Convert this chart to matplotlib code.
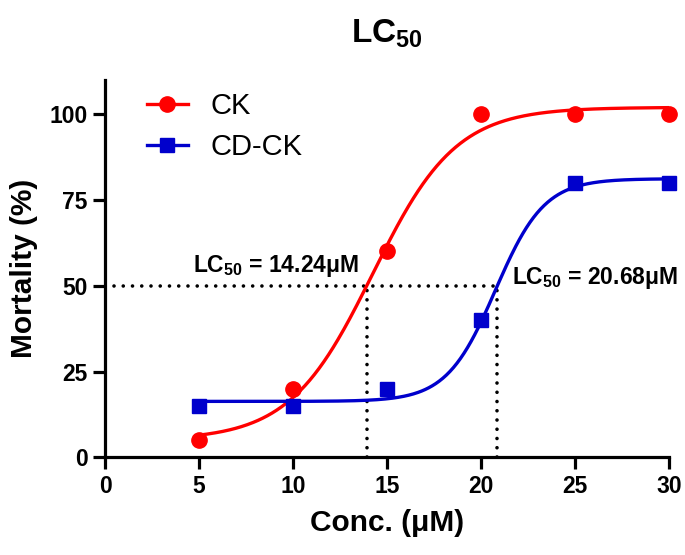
"""
LC50 dose-response plot for CK and CD-CK.
"""

import matplotlib

matplotlib.use("Agg")

import matplotlib.pyplot as plt
import numpy as np


plt.rcParams["font.family"] = ["Liberation Sans", "DejaVu Sans"]
plt.rcParams["mathtext.fontset"] = "custom"
plt.rcParams["mathtext.rm"] = "Liberation Sans"
plt.rcParams["mathtext.bf"] = "Liberation Sans:bold"


# measured points
conc = [5, 10, 15, 20, 25, 30]
ck_mortality = [5, 20, 60, 100, 100, 100]
cdck_mortality = [15, 15, 20, 40, 80, 80]

# sigmoid fit parameters: bottom, top, midpoint, width
ck_fit = [5.0, 102.0, 14.24, 2.21]
cdck_fit = [16.3, 81.2, 20.77, 1.30]

lc50_labels = [
    "LC$_{\\mathbf{50}}$ = 14.24\u03bcM",
    "LC$_{\\mathbf{50}}$ = 20.68\u03bcM",
]
lc50_label_pos = [(4.7, 54.0), (21.66, 50.6)]

x_ticks = [0, 5, 10, 15, 20, 25, 30]
y_ticks = [0, 25, 50, 75, 100]

RED = "#ff0000"
BLUE = "#0000cc"


def sigmoid(x, params):
    """
    Boltzmann sigmoid used for the fitted lines.
    """

    bottom, top, mid, width = params

    return bottom + (top - bottom) / (1 + np.exp(-(x - mid) / width))


def half_point(params):
    """
    x where the fitted curve reaches 50 % mortality.
    """

    bottom, top, mid, width = params
    frac = (50 - bottom) / (top - bottom)

    return mid + width * np.log(frac / (1 - frac))


fig = plt.figure(figsize=(6.85, 5.55), dpi=100)
ax = fig.add_axes([0.1533, 0.176, 0.8233, 0.68])

x_fine = np.linspace(conc[0], conc[-1], 400)

ax.plot(x_fine, sigmoid(x_fine, ck_fit), color=RED, lw=2.4, zorder=3)
ax.plot(x_fine, sigmoid(x_fine, cdck_fit), color=BLUE, lw=2.4, zorder=3)

ax.plot(
    conc,
    ck_mortality,
    ls="none",
    marker="o",
    ms=11,
    color=RED,
    clip_on=False,
    zorder=4,
)
ax.plot(
    conc,
    cdck_mortality,
    ls="none",
    marker="s",
    ms=10,
    color=BLUE,
    clip_on=False,
    zorder=4,
)

# dotted guide lines at 50 %
x_ck = half_point(ck_fit)
x_cdck = half_point(cdck_fit)

dots = dict(
    color="black",
    lw=2.6,
    ls=(0, (0.01, 2.55)),
    dash_capstyle="round",
    zorder=2,
)
ax.plot([0.5, x_cdck], [50, 50], **dots)
ax.plot([x_ck, x_ck], [0, 50], **dots)
ax.plot([x_cdck, x_cdck], [0, 50], **dots)

for label, (lx, ly) in zip(lc50_labels, lc50_label_pos):

    ax.text(
        lx,
        ly,
        label,
        fontsize=16.5,
        fontweight="bold",
        ha="left",
        va="baseline",
    )

# legend entries: line with marker
ax.plot([], [], color=RED, lw=2.4, marker="o", ms=11, label="CK")
ax.plot([], [], color=BLUE, lw=2.4, marker="s", ms=10, label="CD-CK")

ax.legend(
    loc="upper left",
    bbox_to_anchor=(0.074, 0.967),
    frameon=False,
    fontsize=21,
    handlelength=1.4,
    handletextpad=0.8,
    labelspacing=0.45,
    borderpad=0,
    borderaxespad=0,
)

ax.set_xlim(0, 30)
ax.set_ylim(0, 110)
ax.set_xticks(x_ticks)
ax.set_yticks(y_ticks)

for side in ["top", "right"]:
    ax.spines[side].set_visible(False)

for side in ["left", "bottom"]:
    ax.spines[side].set_linewidth(2.3)

ax.tick_params(
    axis="both",
    direction="out",
    length=8.5,
    width=2.3,
    labelsize=16.5,
    pad=4,
)

for tick in ax.get_xticklabels() + ax.get_yticklabels():
    tick.set_fontweight("bold")

ax.set_xlabel("Conc. (\u03bcM)", fontsize=21.5, fontweight="bold", labelpad=8)
ax.set_ylabel("Mortality (%)", fontsize=21.5, fontweight="bold", labelpad=8)
ax.set_title(
    "LC$_{\\mathbf{50}}$",
    fontsize=24,
    fontweight="bold",
    pad=27,
)

fig.savefig("out.png", dpi=100)
plt.close(fig)
